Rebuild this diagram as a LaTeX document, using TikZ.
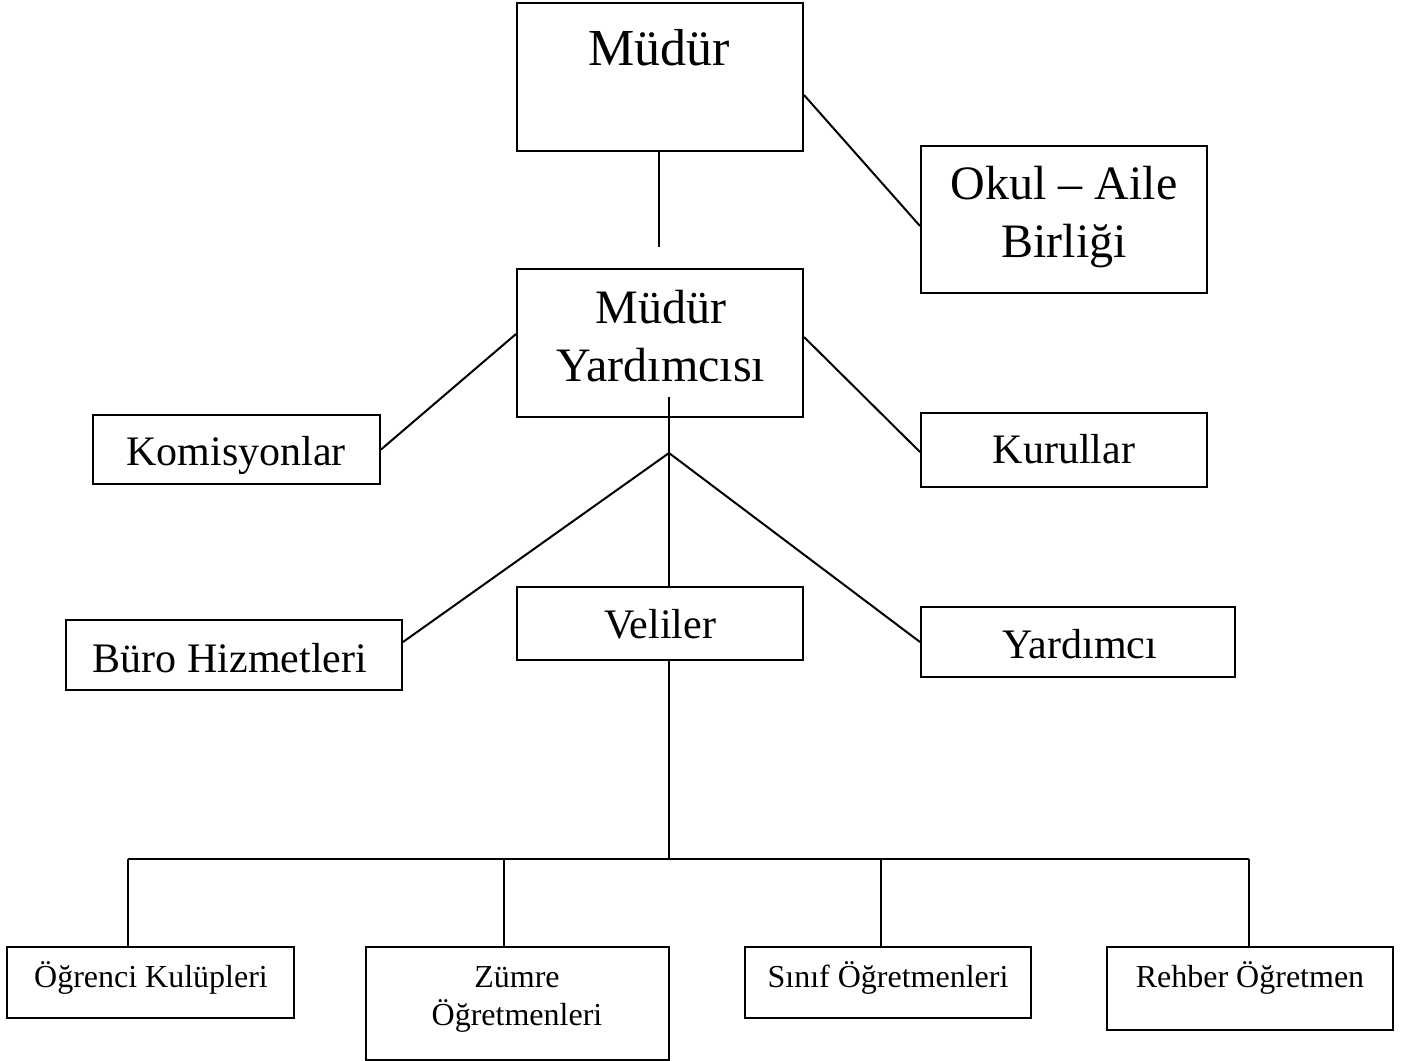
\documentclass[tikz,border=0pt]{standalone}
\usepackage{fontspec}
\setmainfont{Liberation Serif}
\begin{document}
\begin{tikzpicture}[x=0.5pt,y=-0.5pt,
  box/.style={draw, line width=1pt, inner sep=0pt, rectangle},
  lbl/.style={anchor=base, inner sep=0pt},
  conn/.style={line width=1pt},
  fTop/.style={font=\fontsize{26pt}{30pt}\selectfont},
  fBig/.style={font=\fontsize{24pt}{28pt}\selectfont},
  fMid/.style={font=\fontsize{21pt}{25pt}\selectfont},
  fSmall/.style={font=\fontsize{16pt}{19pt}\selectfont}]
\useasboundingbox[fill=white] (0,0) rectangle (1405,1061);

% boxes
\node[box, minimum width=143pt, minimum height=74pt] (mudur) at (660,77) {};
\node[box, minimum width=143pt, minimum height=73.5pt] (okul) at (1064,219.5) {};
\node[box, minimum width=143pt, minimum height=74pt] (my) at (660,343) {};
\node[box, minimum width=143.5pt, minimum height=34.5pt] (kom) at (236.5,449.5) {};
\node[box, minimum width=143pt, minimum height=37pt] (kur) at (1064,450) {};
\node[box, minimum width=168pt, minimum height=35pt] (buro) at (234,655) {};
\node[box, minimum width=143pt, minimum height=36.5pt] (veli) at (660,623.5) {};
\node[box, minimum width=157pt, minimum height=35pt] (yard) at (1078,642) {};
\node[box, minimum width=143.5pt, minimum height=35.5pt] (ogr) at (150.5,982.5) {};
\node[box, minimum width=151.5pt, minimum height=56.5pt] (zum) at (517.5,1003.5) {};
\node[box, minimum width=143pt, minimum height=35.5pt] (sinif) at (888,982.5) {};
\node[box, minimum width=143pt, minimum height=41.5pt] (reh) at (1250,988.5) {};

% texts
\node[lbl,fTop] (mudurT) at (659,65) {Müdür};
\node[lbl,fBig] (okulT1) at (1064,199) {Okul – Aile};
\node[lbl,fBig] (okulT2) at (1064,257) {Birliği};
\node[lbl,fBig] (myT1) at (661,323) {Müdür};
\node[lbl,fBig] (myT2) at (661,381) {Yardımcısı};
\node[lbl,fMid] (komT) at (236,465) {Komisyonlar};
\node[lbl,fMid] (kurT) at (1064,463) {Kurullar};
\node[lbl,fMid] (buroT) at (230,672) {Büro Hizmetleri};
\node[lbl,fMid] (veliT) at (660,638) {Veliler};
\node[lbl,fMid] (yardT) at (1080,658) {Yardımcı};
\node[lbl,fSmall] (ogrT) at (151,987) {Öğrenci Kulüpleri};
\node[lbl,fSmall] (zumT1) at (517,987) {Zümre};
\node[lbl,fSmall] (zumT2) at (517,1025) {Öğretmenleri};
\node[lbl,fSmall] (sinifT) at (888,987) {Sınıf Öğretmenleri};
\node[lbl,fSmall] (rehT) at (1250,987) {Rehber Öğretmen};

% connector points
\coordinate (m1) at (659,247);
\coordinate (myIn) at (669,397);
\coordinate (j) at (669,453);
\coordinate (h) at (669,859);
\coordinate (b1) at (128,859);
\coordinate (b2) at (504,859);
\coordinate (b3) at (881,859);
\coordinate (b4) at (1249,859);

% connectors
\draw[conn] ([xshift=-0.5pt]mudur.south) -- (m1);
\draw[conn] ([yshift=-9pt]mudur.east) -- ([yshift=-3.25pt]okul.west);
\draw[conn] ([yshift=4.5pt]my.west) -- (kom.east);
\draw[conn] ([yshift=3pt]my.east) -- ([yshift=-1pt]kur.west);
\draw[conn] (myIn) -- (veli.north -| myIn);
\draw[conn] (j) -- ([yshift=6.5pt]buro.east);
\draw[conn] (j) -- (yard.west);
\draw[conn] (veli.south -| h) -- (h);
\draw[conn] (b1) -- (b4);
\draw[conn] (b1) -- (ogr.north -| b1);
\draw[conn] (b2) -- (zum.north -| b2);
\draw[conn] (b3) -- (sinif.north -| b3);
\draw[conn] (b4) -- (reh.north -| b4);
\end{tikzpicture}
\end{document}
